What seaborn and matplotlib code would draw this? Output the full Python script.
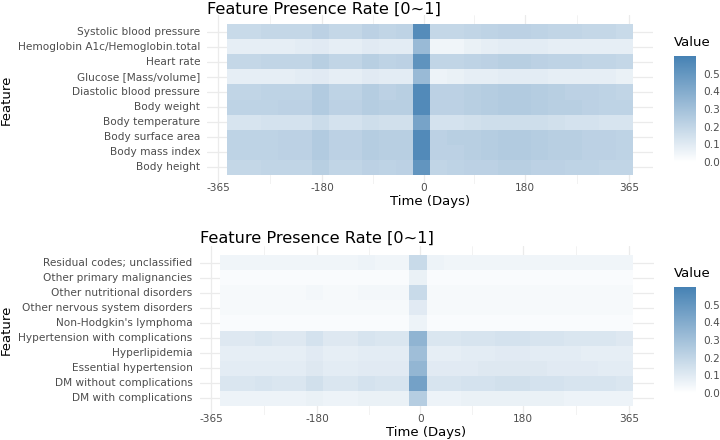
import matplotlib
matplotlib.use('Agg')
import matplotlib.pyplot as plt
import seaborn as sns
import pandas as pd
from matplotlib.colors import LinearSegmentedColormap

# time bins (centre day of each 30-day bin)
days = [-334, -304, -274, -244, -214, -184, -154, -124, -94, -64, -34, -4,
        26, 56, 86, 116, 146, 176, 206, 236, 266, 296, 326, 356]
bin_width = 30
x_ticks = [-365, -180, 0, 180, 365]
x_minor = [-272.5, -90, 90, 272.5]
legend_ticks = [0.0, 0.1, 0.2, 0.3, 0.4, 0.5]

vitals = ['Systolic blood pressure', 'Hemoglobin A1c/Hemoglobin.total',
          'Heart rate', 'Glucose [Mass/volume]', 'Diastolic blood pressure',
          'Body weight', 'Body temperature', 'Body surface area',
          'Body mass index', 'Body height']
systolic = [0.18, 0.18, 0.19, 0.19, 0.19, 0.22, 0.19, 0.19, 0.22, 0.20, 0.21, 0.55,
            0.19, 0.19, 0.20, 0.21, 0.22, 0.22, 0.21, 0.20, 0.20, 0.19, 0.19, 0.18]
hba1c = [0.08, 0.08, 0.08, 0.08, 0.09, 0.10, 0.08, 0.08, 0.10, 0.09, 0.09, 0.33,
         0.05, 0.05, 0.07, 0.08, 0.09, 0.09, 0.09, 0.08, 0.08, 0.08, 0.08, 0.08]
heart_rate = [0.19, 0.19, 0.20, 0.20, 0.20, 0.23, 0.20, 0.20, 0.23, 0.21, 0.22, 0.52,
              0.20, 0.20, 0.21, 0.22, 0.23, 0.23, 0.22, 0.21, 0.21, 0.20, 0.20, 0.19]
glucose = [0.08, 0.08, 0.08, 0.08, 0.09, 0.10, 0.08, 0.08, 0.10, 0.09, 0.09, 0.33,
           0.06, 0.07, 0.08, 0.08, 0.09, 0.09, 0.09, 0.08, 0.08, 0.08, 0.08, 0.07]
diastolic = [0.20, 0.20, 0.21, 0.21, 0.21, 0.25, 0.21, 0.21, 0.24, 0.22, 0.23, 0.56,
             0.22, 0.22, 0.23, 0.24, 0.25, 0.25, 0.24, 0.23, 0.22, 0.22, 0.21, 0.20]
weight = [0.21, 0.21, 0.21, 0.22, 0.22, 0.25, 0.22, 0.22, 0.24, 0.23, 0.23, 0.56,
          0.22, 0.22, 0.23, 0.24, 0.25, 0.25, 0.24, 0.23, 0.23, 0.22, 0.21, 0.21]
temperature = [0.13, 0.13, 0.14, 0.14, 0.14, 0.17, 0.14, 0.14, 0.16, 0.15, 0.15, 0.44,
               0.14, 0.14, 0.15, 0.16, 0.16, 0.16, 0.16, 0.15, 0.14, 0.14, 0.13, 0.13]
surface_area = [0.21, 0.21, 0.21, 0.22, 0.22, 0.25, 0.22, 0.22, 0.24, 0.23, 0.23, 0.56,
                0.22, 0.23, 0.23, 0.24, 0.25, 0.25, 0.24, 0.23, 0.23, 0.22, 0.22, 0.21]
bmi = [0.21, 0.21, 0.21, 0.22, 0.22, 0.25, 0.22, 0.22, 0.24, 0.23, 0.23, 0.56,
       0.22, 0.22, 0.23, 0.24, 0.25, 0.25, 0.24, 0.23, 0.23, 0.22, 0.22, 0.21]
height = [0.19, 0.19, 0.20, 0.20, 0.20, 0.23, 0.20, 0.20, 0.22, 0.21, 0.22, 0.51,
          0.20, 0.21, 0.22, 0.22, 0.23, 0.23, 0.22, 0.22, 0.21, 0.21, 0.20, 0.20]

conditions = ['Residual codes; unclassified', 'Other primary malignancies',
              'Other nutritional disorders', 'Other nervous system disorders',
              "Non-Hodgkin's lymphoma", 'Hypertension with complications',
              'Hyperlipidemia', 'Essential hypertension',
              'DM without complications', 'DM with complications']
residual = [0.05, 0.05, 0.05, 0.05, 0.05, 0.05, 0.05, 0.05, 0.06, 0.05, 0.05, 0.18,
            0.06, 0.05, 0.05, 0.05, 0.05, 0.05, 0.05, 0.05, 0.05, 0.05, 0.05, 0.05]
malignancies = [0.02, 0.02, 0.02, 0.02, 0.02, 0.02, 0.02, 0.02, 0.02, 0.02, 0.02, 0.07,
                0.02, 0.02, 0.02, 0.02, 0.02, 0.02, 0.02, 0.02, 0.02, 0.02, 0.02, 0.02]
nutritional = [0.03, 0.03, 0.03, 0.03, 0.03, 0.04, 0.03, 0.03, 0.04, 0.04, 0.04, 0.18,
               0.03, 0.03, 0.03, 0.03, 0.03, 0.03, 0.03, 0.03, 0.03, 0.03, 0.03, 0.03]
nervous = [0.03, 0.03, 0.03, 0.03, 0.03, 0.03, 0.03, 0.03, 0.03, 0.03, 0.03, 0.10,
           0.03, 0.03, 0.03, 0.03, 0.03, 0.03, 0.03, 0.03, 0.03, 0.03, 0.03, 0.03]
lymphoma = [0.02, 0.02, 0.02, 0.02, 0.02, 0.02, 0.02, 0.02, 0.02, 0.02, 0.02, 0.06,
            0.02, 0.02, 0.02, 0.02, 0.02, 0.02, 0.02, 0.02, 0.02, 0.02, 0.02, 0.02]
htn_complications = [0.11, 0.11, 0.12, 0.11, 0.11, 0.14, 0.11, 0.11, 0.13, 0.12, 0.12, 0.36,
                     0.12, 0.12, 0.13, 0.13, 0.14, 0.14, 0.13, 0.13, 0.12, 0.12, 0.12, 0.11]
hyperlipidemia = [0.08, 0.08, 0.08, 0.08, 0.08, 0.10, 0.08, 0.08, 0.09, 0.09, 0.09, 0.31,
                  0.08, 0.08, 0.09, 0.09, 0.10, 0.10, 0.09, 0.09, 0.09, 0.08, 0.08, 0.08]
essential_htn = [0.09, 0.09, 0.09, 0.09, 0.09, 0.11, 0.09, 0.09, 0.10, 0.10, 0.10, 0.35,
                 0.10, 0.10, 0.10, 0.11, 0.11, 0.11, 0.11, 0.10, 0.10, 0.10, 0.09, 0.09]
dm_without = [0.12, 0.12, 0.13, 0.12, 0.12, 0.15, 0.12, 0.12, 0.14, 0.13, 0.13, 0.45,
              0.13, 0.13, 0.14, 0.14, 0.15, 0.15, 0.14, 0.14, 0.13, 0.13, 0.13, 0.12]
dm_with = [0.06, 0.06, 0.06, 0.06, 0.06, 0.07, 0.06, 0.06, 0.07, 0.07, 0.07, 0.24,
           0.06, 0.06, 0.07, 0.07, 0.07, 0.07, 0.07, 0.07, 0.06, 0.06, 0.06, 0.06]

vitals_rate = pd.DataFrame([systolic, hba1c, heart_rate, glucose, diastolic, weight,
                            temperature, surface_area, bmi, height],
                           index=vitals, columns=days)
conditions_rate = pd.DataFrame([residual, malignancies, nutritional, nervous, lymphoma,
                                htn_complications, hyperlipidemia, essential_htn,
                                dm_without, dm_with],
                               index=conditions, columns=days)

sns.set_theme(style='white')
plt.rcParams['font.family'] = ['DejaVu Sans']

W, H = 720, 440
cmap = LinearSegmentedColormap.from_list('white_steelblue', ['white', 'steelblue'])
grey_text = '#4D4D4D'
grid_col = '#EBEBEB'


def box(x0, y0, x1, y1):
    # pixel box (top-left origin) -> figure fraction
    return [x0 / W, 1 - y1 / H, (x1 - x0) / W, (y1 - y0) / H]


def draw_panel(fig, table, panel_px, cbar_px, title_xy, ylabel_y, xlabel_xy, value_y):
    ax = fig.add_axes(box(*panel_px))
    cax = fig.add_axes(box(*cbar_px))
    sns.heatmap(table, ax=ax, cmap=cmap, vmin=0, vmax=0.6, cbar_ax=cax,
                cbar_kws={'ticks': legend_ticks}, linewidths=0)
    n_rows, n_cols = table.shape
    start = days[0] - bin_width / 2
    ax.set_xticks([(d - start) / bin_width for d in x_ticks])
    ax.set_xticklabels([str(d) for d in x_ticks], rotation=0)
    ax.set_xticks([(d - start) / bin_width for d in x_minor], minor=True)
    ax.set_xlim(-1.2, n_cols + 1.2)
    ax.set_ylim(n_rows + 0.6, -0.6)
    ax.set_axisbelow(True)
    ax.grid(True, which='major', color=grid_col, linewidth=0.9)
    ax.grid(True, which='minor', axis='x', color=grid_col, linewidth=0.45)
    for s in ax.spines.values():
        s.set_visible(False)
    ax.tick_params(axis='both', which='both', length=0, labelsize=7.6, labelcolor=grey_text)
    ax.tick_params(axis='x', pad=-0.5)
    ax.tick_params(axis='y', pad=5, rotation=0)
    ax.set_xlabel('')
    ax.set_ylabel('')

    cbar = ax.collections[0].colorbar
    cbar.outline.set_visible(False)
    cax.tick_params(axis='y', which='major', direction='in', color='white', length=4,
                    width=0.6, left=True, right=True, labelsize=7.6,
                    labelcolor=grey_text, pad=5)
    cax.set_yticklabels([f'{t:.1f}' for t in legend_ticks])

    fig.text(title_xy[0] / W, 1 - title_xy[1] / H, 'Feature Presence Rate [0~1]',
             fontsize=11.6, color='black', ha='left', va='baseline')
    fig.text(6 / W, 1 - ylabel_y / H, 'Feature', rotation=90, fontsize=9.5,
             ha='center', va='center', color='black')
    fig.text(xlabel_xy[0] / W, 1 - xlabel_xy[1] / H, 'Time (Days)', fontsize=9.5,
             ha='center', va='center', color='black')
    fig.text(674 / W, 1 - value_y / H, 'Value', fontsize=9.5, ha='left',
             va='center', color='black')
    return ax


fig = plt.figure(figsize=(7.2, 4.4), dpi=100)
fig.patch.set_facecolor('white')

draw_panel(fig, vitals_rate, (207, 15, 653, 184), (674, 56, 696, 162),
           (207, 13.5), 100, (430, 201), 43)
draw_panel(fig, conditions_rate, (199.5, 246, 653.5, 415), (674, 287, 696, 393),
           (200, 243), 330, (426, 432.5), 273)

fig.savefig('out.png', dpi=100, facecolor='white')
